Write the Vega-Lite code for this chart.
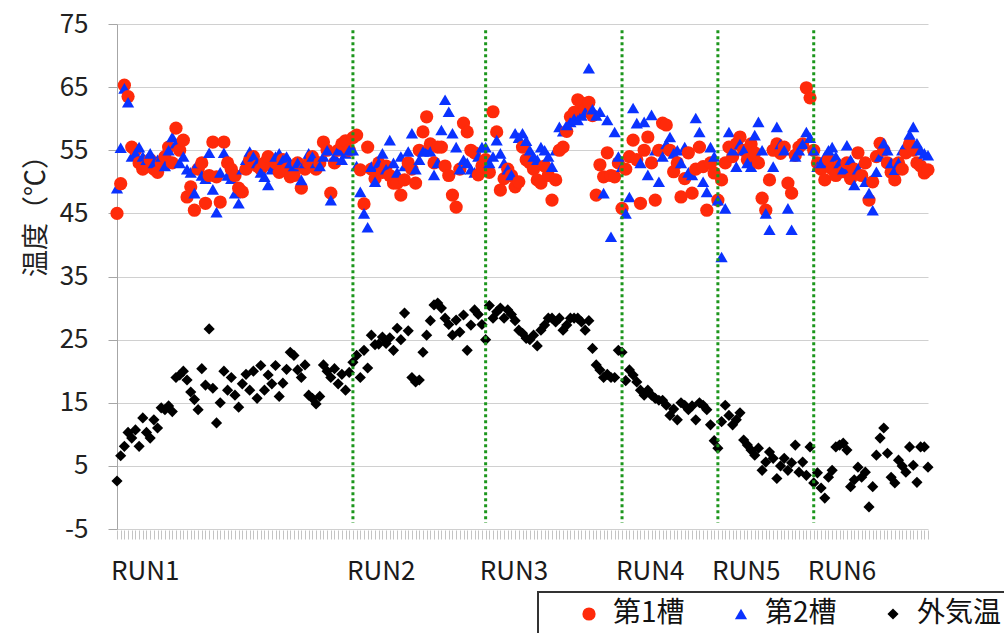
{
"$schema":"https://vega.github.io/schema/vega-lite/v6.json",
"autosize":{"type":"none"},
"padding":{"left":117,"top":24,"right":76,"bottom":104},
"width":811,"height":505,
"background":"white",
"config":{"view":{"stroke":null},"font":"Noto Sans CJK JP","legend":{"strokeWidth":2}},
"datasets":{
"runs":[{"run":"RUN1","i":0},{"run":"RUN2","i":64},{"run":"RUN3","i":100},{"run":"RUN4","i":137},{"run":"RUN5","i":163},{"run":"RUN6","i":189}],
"temps":[
{"i":0,"a":45,"b":49,"c":2.6},{"i":1,"a":49.7,"b":55.4,"c":6.6},{"i":2,"a":65.3,"b":64.8,"c":8.1},{"i":3,"a":63.5,"b":62.6,"c":10.3},{"i":4,"a":55.5,"b":54,"c":9.4},{"i":5,"a":55,"b":54.5,"c":10.7},{"i":6,"a":53,"b":55.5,"c":8.1},{"i":7,"a":52,"b":54,"c":12.6},{"i":8,"a":52.5,"b":53.5,"c":10.3},{"i":9,"a":53.5,"b":54.5,"c":9.4},
{"i":10,"a":52,"b":53,"c":12.3},{"i":11,"a":51.5,"b":53.5,"c":11},{"i":12,"a":53,"b":54,"c":14.2},{"i":13,"a":54,"b":52.5,"c":13.9},{"i":14,"a":55.5,"b":55,"c":14.5},{"i":15,"a":53,"b":57.1,"c":13.6},{"i":16,"a":58.5,"b":56.1,"c":19},{"i":17,"a":55,"b":53,"c":19.4},{"i":18,"a":56.6,"b":54,"c":20},{"i":19,"a":47.6,"b":52,"c":18.6},
{"i":20,"a":49.2,"b":51.5,"c":16.7},{"i":21,"a":45.5,"b":48.2,"c":15.5},{"i":22,"a":52,"b":53,"c":13.9},{"i":23,"a":53,"b":51,"c":20.4},{"i":24,"a":46.6,"b":50.5,"c":17.8},{"i":25,"a":51,"b":54.6,"c":26.7},{"i":26,"a":56.3,"b":48.8,"c":17.3},{"i":27,"a":50.8,"b":45.2,"c":11.8},{"i":28,"a":46.8,"b":51.5,"c":15},{"i":29,"a":56.3,"b":54.6,"c":20},
{"i":30,"a":53,"b":51,"c":17},{"i":31,"a":52,"b":50.5,"c":19},{"i":32,"a":51,"b":48.2,"c":16.2},{"i":33,"a":49,"b":46.6,"c":14.3},{"i":34,"a":48.4,"b":52,"c":18},{"i":35,"a":52,"b":53.5,"c":19.5},{"i":36,"a":53.5,"b":54.8,"c":17},{"i":37,"a":54,"b":54,"c":20},{"i":38,"a":52.5,"b":53,"c":15.7},{"i":39,"a":52,"b":51.5,"c":20.9},
{"i":40,"a":53,"b":50.8,"c":17},{"i":41,"a":54,"b":49.5,"c":19.4},{"i":42,"a":52.5,"b":52,"c":18},{"i":43,"a":53,"b":54,"c":20.9},{"i":44,"a":51.5,"b":54.5,"c":16},{"i":45,"a":53.5,"b":53.5,"c":18.1},{"i":46,"a":52,"b":54,"c":20.3},{"i":47,"a":50.8,"b":53,"c":23},{"i":48,"a":51,"b":52.5,"c":22.5},{"i":49,"a":53,"b":53,"c":20.2},
{"i":50,"a":49,"b":50.3,"c":19},{"i":51,"a":52,"b":53,"c":21},{"i":52,"a":53,"b":54.5,"c":16.2},{"i":53,"a":54,"b":54,"c":15.7},{"i":54,"a":52,"b":53,"c":14.8},{"i":55,"a":53,"b":52.5,"c":16},{"i":56,"a":56.3,"b":54,"c":21},{"i":57,"a":55,"b":55,"c":20},{"i":58,"a":48.2,"b":47.1,"c":19},{"i":59,"a":53,"b":54,"c":20.4},
{"i":60,"a":55,"b":55,"c":18},{"i":61,"a":56,"b":53.5,"c":19.5},{"i":62,"a":56.5,"b":54.5,"c":17},{"i":63,"a":55,"b":55,"c":19.8},{"i":64,"a":57,"b":55,"c":21.4},{"i":65,"a":57.4,"b":52.5,"c":22.5},{"i":66,"a":51.9,"b":48.4,"c":19},{"i":67,"a":46.5,"b":45,"c":23.3},{"i":68,"a":55.5,"b":42.8,"c":20.5},{"i":69,"a":52,"b":52.4,"c":25.7},
{"i":70,"a":50.5,"b":50,"c":24.2},{"i":71,"a":53,"b":53,"c":24.3},{"i":72,"a":51.5,"b":54.5,"c":25.4},{"i":73,"a":52.5,"b":52,"c":24.4},{"i":74,"a":51,"b":56.6,"c":25.3},{"i":75,"a":49.8,"b":53,"c":23.3},{"i":76,"a":49.8,"b":51.5,"c":26.8},{"i":77,"a":47.9,"b":54,"c":25},{"i":78,"a":50.3,"b":52.5,"c":29.2},{"i":79,"a":53,"b":54.8,"c":26.4},
{"i":80,"a":52,"b":57.7,"c":19},{"i":81,"a":49.8,"b":52,"c":18.3},{"i":82,"a":55,"b":53.5,"c":18.6},{"i":83,"a":57.9,"b":54.8,"c":23},{"i":84,"a":60.3,"b":55,"c":25.7},{"i":85,"a":56,"b":54.8,"c":28},{"i":86,"a":53,"b":51.1,"c":30.5},{"i":87,"a":55.5,"b":53,"c":30.8},{"i":88,"a":55.5,"b":58.2,"c":30},{"i":89,"a":52.5,"b":63,"c":28.4},
{"i":90,"a":51,"b":61.1,"c":27.4},{"i":91,"a":47.9,"b":57.7,"c":25.7},{"i":92,"a":46,"b":55.5,"c":28.1},{"i":93,"a":52,"b":52,"c":26.2},{"i":94,"a":59.3,"b":53.5,"c":28.9},{"i":95,"a":57.9,"b":53,"c":23.3},{"i":96,"a":55,"b":52,"c":27.3},{"i":97,"a":54.6,"b":51.5,"c":29.7},{"i":98,"a":51.1,"b":54,"c":29},{"i":99,"a":52.5,"b":55.5,"c":27.4},
{"i":100,"a":53.5,"b":55.5,"c":25},{"i":101,"a":51.5,"b":53,"c":30.4},{"i":102,"a":61.1,"b":54,"c":28.4},{"i":103,"a":57.9,"b":56.6,"c":29.4},{"i":104,"a":48.7,"b":54.5,"c":30},{"i":105,"a":50.5,"b":53,"c":28.4},{"i":106,"a":52,"b":52,"c":29.7},{"i":107,"a":51,"b":51.1,"c":29},{"i":108,"a":49.2,"b":57.7,"c":28},{"i":109,"a":50,"b":57,"c":26.5},
{"i":110,"a":55.5,"b":57.7,"c":26},{"i":111,"a":53.5,"b":56.5,"c":25.2},{"i":112,"a":53,"b":55,"c":25},{"i":113,"a":52,"b":54,"c":25.7},{"i":114,"a":50.3,"b":53.5,"c":24},{"i":115,"a":49.8,"b":55.5,"c":26.5},{"i":116,"a":52.5,"b":55,"c":27.3},{"i":117,"a":51,"b":54,"c":28.4},{"i":118,"a":47.1,"b":52.4,"c":28.4},{"i":119,"a":50.3,"b":55,"c":27.8},
{"i":120,"a":55,"b":58.7,"c":28.4},{"i":121,"a":55.5,"b":58,"c":26.5},{"i":122,"a":58,"b":59,"c":27.3},{"i":123,"a":60.3,"b":59.5,"c":28.4},{"i":124,"a":61,"b":60,"c":28.4},{"i":125,"a":63,"b":59.8,"c":28.4},{"i":126,"a":62.5,"b":60.5,"c":27.8},{"i":127,"a":61.5,"b":61,"c":26.5},{"i":128,"a":62.6,"b":68,"c":28},{"i":129,"a":60.5,"b":61.5,"c":23.6},
{"i":130,"a":47.9,"b":60.5,"c":21},{"i":131,"a":52.7,"b":61.1,"c":20.2},{"i":132,"a":50.8,"b":48.2,"c":19},{"i":133,"a":54.6,"b":59.8,"c":19.5},{"i":134,"a":51,"b":41.3,"c":19},{"i":135,"a":50.8,"b":57.9,"c":19},{"i":136,"a":53,"b":54,"c":23.3},{"i":137,"a":45.8,"b":52.4,"c":23},{"i":138,"a":52,"b":45,"c":18.5},{"i":139,"a":54,"b":47.6,"c":20.2},
{"i":140,"a":56.6,"b":61.7,"c":19.4},{"i":141,"a":53.5,"b":59.3,"c":18.3},{"i":142,"a":46.6,"b":53,"c":17},{"i":143,"a":55,"b":59.5,"c":16.2},{"i":144,"a":57.1,"b":51.1,"c":17},{"i":145,"a":53,"b":60.6,"c":16.2},{"i":146,"a":47.1,"b":55,"c":15.7},{"i":147,"a":55,"b":50,"c":15.4},{"i":148,"a":59.3,"b":54,"c":15.4},{"i":149,"a":59,"b":56,"c":14.6},
{"i":150,"a":55,"b":57.1,"c":13},{"i":151,"a":51.6,"b":54.5,"c":14},{"i":152,"a":53,"b":55,"c":12.3},{"i":153,"a":47.6,"b":53,"c":15},{"i":154,"a":50.5,"b":55.5,"c":14.6},{"i":155,"a":54.6,"b":51.5,"c":13.9},{"i":156,"a":48.2,"b":51.1,"c":14.5},{"i":157,"a":52,"b":60.1,"c":12.3},{"i":158,"a":55.5,"b":57.9,"c":15},{"i":159,"a":52.4,"b":50,"c":14.6},
{"i":160,"a":45.5,"b":48.4,"c":13.9},{"i":161,"a":53,"b":55.5,"c":11.5},{"i":162,"a":51.4,"b":54,"c":9},{"i":163,"a":47.1,"b":47.1,"c":7.8},{"i":164,"a":50.3,"b":38.1,"c":12},{"i":165,"a":53,"b":45.8,"c":14.6},{"i":166,"a":55.5,"b":57.9,"c":13},{"i":167,"a":54,"b":55,"c":11.5},{"i":168,"a":56,"b":52.4,"c":12.3},{"i":169,"a":57.1,"b":56,"c":13.4},
{"i":170,"a":55,"b":55,"c":9.1},{"i":171,"a":53.5,"b":53,"c":8.3},{"i":172,"a":56,"b":52.4,"c":7.5},{"i":173,"a":54.6,"b":57.4,"c":6.7},{"i":174,"a":53,"b":59.5,"c":7.8},{"i":175,"a":47.4,"b":55,"c":4.3},{"i":176,"a":45.5,"b":45,"c":5.6},{"i":177,"a":50.3,"b":42.4,"c":7.2},{"i":178,"a":55,"b":52.4,"c":6.2},{"i":179,"a":56,"b":58.7,"c":3},
{"i":180,"a":54.5,"b":56,"c":5},{"i":181,"a":55.5,"b":55,"c":6.2},{"i":182,"a":49.8,"b":45.8,"c":4.3},{"i":183,"a":48.2,"b":42.4,"c":5.5},{"i":184,"a":54.2,"b":54,"c":8.3},{"i":185,"a":55.5,"b":55,"c":4},{"i":186,"a":56,"b":56,"c":5.6},{"i":187,"a":64.9,"b":57.9,"c":3.5},{"i":188,"a":63.3,"b":57,"c":8},{"i":189,"a":55,"b":55,"c":2.3},
{"i":190,"a":53,"b":52.4,"c":3.9},{"i":191,"a":52,"b":53,"c":1.5},{"i":192,"a":50.3,"b":54,"c":-0.1},{"i":193,"a":53.5,"b":55,"c":3.2},{"i":194,"a":52,"b":55.5,"c":4.3},{"i":195,"a":51,"b":54,"c":8},{"i":196,"a":52.5,"b":53,"c":8.3},{"i":197,"a":51.6,"b":52,"c":8.6},{"i":198,"a":53,"b":55.8,"c":7.5},{"i":199,"a":50.5,"b":53.5,"c":1.7},
{"i":200,"a":52,"b":49.5,"c":2.8},{"i":201,"a":54.6,"b":52,"c":4.8},{"i":202,"a":51,"b":53,"c":3.2},{"i":203,"a":53,"b":50,"c":4},{"i":204,"a":47.1,"b":48.2,"c":-1.5},{"i":205,"a":50,"b":45.5,"c":1.7},{"i":206,"a":54,"b":51.6,"c":6.7},{"i":207,"a":56.1,"b":54,"c":9.4},{"i":208,"a":55,"b":56.1,"c":11},{"i":209,"a":53,"b":55,"c":7},
{"i":210,"a":51.5,"b":53,"c":3.2},{"i":211,"a":50.3,"b":51.9,"c":2.3},{"i":212,"a":53,"b":53,"c":5.9},{"i":213,"a":52,"b":55,"c":5},{"i":214,"a":54.6,"b":56,"c":4},{"i":215,"a":56,"b":57.5,"c":8},{"i":216,"a":55,"b":58.7,"c":5.1},{"i":217,"a":53,"b":56.1,"c":2.4},{"i":218,"a":52.5,"b":55,"c":8},{"i":219,"a":51.4,"b":54.5,"c":8},
{"i":220,"a":51.9,"b":54.2,"c":4.8}
]},
"layer":[
{"data":{"name":"temps"},
 "transform":[{"fold":["a","b","c"],"as":["k","t"]}],
 "mark":{"type":"point","filled":true,"opacity":1},
 "encoding":{
  "x":{"field":"i","type":"quantitative","scale":{"domain":[0,220],"nice":false,"zero":false},
       "axis":{"tickCount":220,"labels":false,"grid":false,"domain":false,"ticks":true,"tickSize":9,"tickColor":"#c4c4c4","tickWidth":1,"title":null,"offset":1}},
  "y":{"field":"t","type":"quantitative","scale":{"domain":[-5,75],"nice":false,"zero":false},
       "axis":{"values":[-5,5,15,25,35,45,55,65,75],"labelExpr":"datum.value + ''","title":"温度（℃）","titleFontSize":27,"titleFontWeight":"normal","titleColor":"#222222","titleX":-81,"titleY":185,"titleBaseline":"middle","titleAngle":-90,
               "labelFontSize":26,"labelColor":"#222222","labelPadding":20,"tickSize":9,"tickColor":"#a6a6a6","domainColor":"#a6a6a6","gridColor":"#d0d0d0","grid":true}},
  "color":{"field":"k","type":"nominal","scale":{"domain":["a","b","c"],"range":["#ff2a0a","#0a32ff","#000000"]},
           "legend":{"orient":"none","legendX":421,"legendY":568,"direction":"horizontal","title":" ","titleOrient":"left","titlePadding":29,"titleFontSize":10,
                     "labelFontSize":28,"labelFont":"Noto Sans CJK JP","labelColor":"#111111","labelOffset":10,"columnPadding":42,"padding":8,"strokeColor":"#333333",
                     "labelExpr":"datum.label == 'a' ? '第1槽' : datum.label == 'b' ? '第2槽' : '外気温'"}},
  "shape":{"field":"k","type":"nominal","scale":{"domain":["a","b","c"],"range":["circle","triangle-up","diamond"]}},
  "size":{"field":"k","type":"nominal","scale":{"domain":["a","b","c"],"range":[175,125,110]}}
 }},
{"data":{"name":"runs"},
 "transform":[{"filter":"datum.i > 0"}],
 "mark":{"type":"rule","color":"#1c961c","strokeWidth":3,"strokeDash":[3,3]},
 "encoding":{"x":{"field":"i","type":"quantitative","scale":{"domain":[0,220],"nice":false,"zero":false}},"y":{"datum":74},"y2":{"datum":-4}}},
{"data":{"name":"runs"},
 "mark":{"type":"text","align":"left","baseline":"middle","dx":-6,"fontSize":26,"color":"#1a1a1a","font":"Noto Sans CJK JP"},
 "encoding":{"x":{"field":"i","type":"quantitative","scale":{"domain":[0,220],"nice":false,"zero":false}},"y":{"datum":-11.8},"text":{"field":"run"}}}
]
}
